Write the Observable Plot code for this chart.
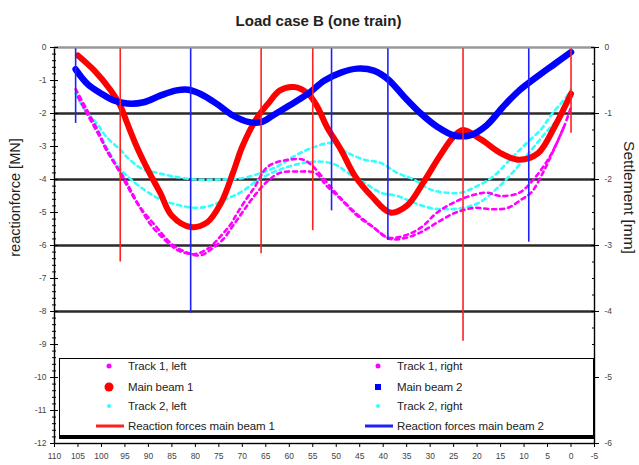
<!DOCTYPE html>
<html>
<head>
<meta charset="utf-8">
<script src="https://cdn.jsdelivr.net/npm/d3@7"></script>
<script src="https://cdn.jsdelivr.net/npm/@observablehq/plot@0.6"></script>
<style>
  html, body { margin: 0; padding: 0; background: #fff; }
  #wrap { position: relative; width: 639px; height: 465px; font-family: "Liberation Sans", Arial, sans-serif; }
  #legend { position: absolute; left: 59px; top: 358px; width: 533px; height: 76px; background: #fff;
            border: 1px solid #000; border-bottom: 4px solid #000; border-right: 2px solid #000; }
  .lt { position: absolute; font-size: 11.5px; color: #222; letter-spacing: -0.1px; white-space: nowrap; transform: translateY(-50%); }
  .ls { position: absolute; transform: translate(-50%, -50%); }
  .ll { position: absolute; height: 3px; transform: translateY(-50%); }
</style>
</head>
<body>
<div id="wrap"></div>
<script>
// ---- Data (x = position, settlements in mm; reaction forces in MN) ----
const titleText = "Load case B (one train)";
const leftLabel = "reactionforce [MN]";
const rightLabel = "Settlement [mm]";

const mb1X  = [105, 101.5, 98, 96, 94.5, 92.5, 90, 87.5, 85, 81, 77.5, 74.5, 72, 70, 67, 64.5, 62, 59, 56, 54, 52, 49, 46, 42.5, 38.5, 35, 31.5, 28, 25, 23, 19, 15, 11, 7, 3.5, 0];
const mb1Mm = [-0.12, -0.35, -0.65, -0.88, -1.15, -1.5, -1.87, -2.2, -2.55, -2.72, -2.65, -2.35, -1.9, -1.5, -1.08, -0.85, -0.65, -0.6, -0.7, -0.9, -1.2, -1.55, -1.95, -2.25, -2.5, -2.4, -2.05, -1.65, -1.35, -1.25, -1.4, -1.6, -1.7, -1.6, -1.2, -0.7];

const mb2X  = [105.5, 103, 100, 97.5, 94.5, 91, 87.5, 84, 81.5, 79, 75.5, 72, 68.5, 66, 63.5, 60, 56, 52.5, 49, 45.5, 42, 39, 35.5, 32, 28.5, 25, 21.5, 18, 14.5, 11, 7, 3.5, 0];
const mb2Mm = [-0.33, -0.55, -0.7, -0.8, -0.85, -0.83, -0.73, -0.65, -0.64, -0.7, -0.85, -1.03, -1.13, -1.13, -1.03, -0.88, -0.7, -0.5, -0.38, -0.32, -0.35, -0.48, -0.75, -1.0, -1.2, -1.33, -1.33, -1.18, -0.9, -0.65, -0.43, -0.25, -0.07];

const t1lX  = [105.5, 100.5, 99, 95, 93.5, 90.5, 89, 85.5, 83.5, 80, 77, 74.5, 72.5, 71, 69, 67.5, 64.5, 60, 57, 55, 51, 49.5, 46, 42.5, 39, 35.5, 32, 28.5, 25, 21.5, 18, 15, 11, 8, 4.5, 1.5, 0];
const t1lMm = [-0.63, -1.3, -1.55, -2.0, -2.2, -2.58, -2.73, -2.98, -3.08, -3.13, -3.03, -2.85, -2.68, -2.5, -2.28, -2.13, -1.8, -1.7, -1.7, -1.8, -2.13, -2.25, -2.5, -2.7, -2.88, -2.85, -2.73, -2.5, -2.35, -2.25, -2.2, -2.25, -2.2, -2.0, -1.65, -1.2, -0.9];

const t1rX  = [105, 100, 98, 94.5, 92, 88.5, 85, 82, 79, 76.5, 74, 72, 70, 68, 65, 62, 58, 54.5, 52, 49, 45.5, 42, 38.5, 35, 31.5, 28, 24.5, 20.5, 17, 13.5, 10.5, 8.5, 6, 4, 1.5];
const t1rMm = [-0.75, -1.4, -1.65, -2.1, -2.4, -2.7, -2.98, -3.1, -3.15, -3.05, -2.9, -2.7, -2.5, -2.3, -2.05, -1.9, -1.88, -1.9, -2.1, -2.3, -2.55, -2.73, -2.9, -2.88, -2.78, -2.63, -2.5, -2.43, -2.45, -2.43, -2.3, -2.2, -1.9, -1.6, -1.2];

const t2lX  = [105.5, 103.5, 101, 99, 96, 94, 91, 88, 85, 80, 74.5, 70, 66, 62.5, 59, 55.5, 51, 47.5, 44, 40.5, 37, 33.5, 30, 26.5, 23.5, 20, 16.5, 13, 9.5, 6.5, 4, 1, 0];
const t2lMm = [-0.7, -0.95, -1.15, -1.35, -1.55, -1.7, -1.85, -1.9, -1.95, -2.0, -2.0, -1.98, -1.9, -1.8, -1.65, -1.53, -1.45, -1.6, -1.7, -1.75, -1.9, -2.0, -2.15, -2.2, -2.2, -2.1, -1.95, -1.7, -1.45, -1.25, -1.0, -0.75, -0.63];

const t2rX  = [105, 101.5, 99, 96.5, 94.5, 91, 87.5, 84, 80, 77, 73.5, 70, 66.5, 62, 57, 53, 50, 47.5, 44, 40.5, 37, 33.5, 30, 26.5, 23, 19.5, 16, 12.5, 9, 5.5, 2.5, 0.5];
const t2rMm = [-0.75, -1.15, -1.5, -1.8, -1.95, -2.15, -2.3, -2.38, -2.43, -2.4, -2.3, -2.18, -2.0, -1.85, -1.75, -1.73, -1.78, -1.9, -2.05, -2.2, -2.25, -2.35, -2.43, -2.45, -2.43, -2.35, -2.15, -1.9, -1.6, -1.3, -1.05, -0.8];

const rf1X = [96, 66, 55, 23, 0];
const rf1  = [-6.5, -6.25, -5.55, -8.9, -2.6];
const rf2X = [105.5, 81, 51, 39, 9];
const rf2  = [-2.3, -8.05, -4.95, -5.85, -5.9];

const gridLines = [-2, -4, -6, -8];
const xTicks = d3.range(110, -5.1, -5);
const yMajor = d3.range(0, -12.1, -1);
const yMinor = d3.range(0, -12.05, -0.2).map(v => Math.round(v * 10) / 10);
const rMajorMm = d3.range(0, -6.1, -1);
const rMinorMm = d3.range(0, -6.01, -0.25);

const legendItems = [
  {label: "Track 1, left",  col: 0, row: 0, kind: "dot",  color: "#ff00ff", size: 5},
  {label: "Track 1, right", col: 1, row: 0, kind: "dot",  color: "#ff00ff", size: 5},
  {label: "Main beam 1",    col: 0, row: 1, kind: "dot",  color: "#ff0000", size: 9},
  {label: "Main beam 2",    col: 1, row: 1, kind: "sq",   color: "#0000ff", size: 6},
  {label: "Track 2, left",  col: 0, row: 2, kind: "dot",  color: "#33ffff", size: 4},
  {label: "Track 2, right", col: 1, row: 2, kind: "dot",  color: "#33ffff", size: 4},
  {label: "Reaction forces main beam 1", col: 0, row: 3, kind: "line", color: "#ff2020"},
  {label: "Reaction forces main beam 2", col: 1, row: 3, kind: "line", color: "#2020ff"}
];

// ---- tables ----
const table = (xs, ms) => xs.map((x, i) => ({x, mm: ms[i]}));
const mb1 = table(mb1X, mb1Mm), mb2 = table(mb2X, mb2Mm);
const t1l = table(t1lX, t1lMm), t1r = table(t1rX, t1rMm);
const t2l = table(t2lX, t2lMm), t2r = table(t2rX, t2rMm);
const rfa = rf1X.map((x, i) => ({x, f: rf1[i]}));
const rfb = rf2X.map((x, i) => ({x, f: rf2[i]}));
const Y = d => d.mm * 2; // 1 mm settlement = 2 MN on the left scale

const trackLine = (data, color) => Plot.line(data, {x: "x", y: Y, stroke: color, strokeWidth: 2.6,
  strokeDasharray: "4,4", curve: "catmull-rom"});

const chart = Plot.plot({
  width: 639, height: 465,
  marginLeft: 54, marginRight: 45, marginTop: 47, marginBottom: 22,
  x: {domain: [110, -5]},
  y: {domain: [-12, 0]},
  style: {fontFamily: "'Liberation Sans', Arial, sans-serif", fontSize: "8.5px", background: "#fff", overflow: "visible"},
  marks: [
    Plot.ruleY(gridLines, {stroke: "#2a2a2a", strokeWidth: 2.3}),
    trackLine(t2l, "#33ffff"),
    trackLine(t2r, "#33ffff"),
    trackLine(t1l, "#ff00ff"),
    trackLine(t1r, "#ff00ff"),
    Plot.line(mb1, {x: "x", y: Y, stroke: "#ff0000", strokeWidth: 6, curve: "catmull-rom"}),
    Plot.line(mb2, {x: "x", y: Y, stroke: "#0000ff", strokeWidth: 6.5, curve: "catmull-rom"}),
    Plot.ruleX(rfa, {x: "x", y1: 0, y2: "f", stroke: "#ff2020", strokeWidth: 1.6}),
    Plot.ruleX(rfb, {x: "x", y1: 0, y2: "f", stroke: "#2020ff", strokeWidth: 1.6}),
    Plot.frame({stroke: "#000", strokeWidth: 1.4}),
    Plot.ruleY([0], {stroke: "#999", strokeWidth: 2.2}),
    // left axis
    Plot.axisY({anchor: "left", ticks: yMajor, tickSize: 8, dx: 4, fill: "none", label: null}),
    Plot.axisY({anchor: "left", ticks: yMinor, tickSize: 4, dx: 2, fill: "none", label: null}),
    Plot.axisY({anchor: "left", ticks: yMajor, tickSize: 0, tickPadding: 8, tickFormat: d => String(d), fill: "#444", label: null}),
    // right axis (mm)
    Plot.axisY({anchor: "right", ticks: rMajorMm.map(m => m * 2), tickSize: 8, dx: -4, fill: "none", label: null}),
    Plot.axisY({anchor: "right", ticks: rMinorMm.map(m => m * 2), tickSize: 3, dx: -3, fill: "none", label: null}),
    Plot.axisY({anchor: "right", ticks: rMajorMm.map(m => m * 2), tickSize: 0, tickPadding: 10, tickFormat: d => String(d / 2), fill: "#444", label: null}),
    // bottom axis
    Plot.axisX({anchor: "bottom", ticks: xTicks, tickSize: 4, tickPadding: 5, tickFormat: d => String(d), fill: "#444", label: null}),
    // titles
    Plot.text([titleText], {text: d => d, frameAnchor: "top", dx: -6, dy: -26, fontSize: 15, fontWeight: "bold", fill: "#222", textAnchor: "middle", lineAnchor: "middle"}),
    Plot.text([leftLabel], {text: d => d, frameAnchor: "left", rotate: -90, dx: -39, dy: -48, fontSize: 14.5, fill: "#222", textAnchor: "middle", lineAnchor: "middle"}),
    Plot.text([rightLabel], {text: d => d, frameAnchor: "right", rotate: 90, dx: 34, dy: -48, fontSize: 15.5, fill: "#222", textAnchor: "middle", lineAnchor: "middle"})
  ]
});

const wrap = document.getElementById("wrap");
wrap.appendChild(chart);

// ---- legend ----
const legend = document.createElement("div");
legend.id = "legend";
const rowY = [7, 28, 47, 67];
const symX = [49, 318];
const txtX = [68, 337];
for (const it of legendItems) {
  const y = rowY[it.row];
  if (it.kind === "line") {
    const l = document.createElement("div");
    l.className = "ll";
    l.style.left = (symX[it.col] - 13) + "px";
    l.style.width = "28px";
    l.style.top = y + "px";
    l.style.background = it.color;
    legend.appendChild(l);
  } else {
    const s = document.createElement("div");
    s.className = "ls";
    s.style.left = symX[it.col] + "px";
    s.style.top = y + "px";
    s.style.width = it.size + "px";
    s.style.height = it.size + "px";
    s.style.background = it.color;
    s.style.borderRadius = it.kind === "dot" ? "50%" : "0";
    legend.appendChild(s);
  }
  const t = document.createElement("div");
  t.className = "lt";
  t.style.left = txtX[it.col] + "px";
  t.style.top = y + "px";
  t.textContent = it.label;
  legend.appendChild(t);
}
wrap.appendChild(legend);
</script>
</body>
</html>
